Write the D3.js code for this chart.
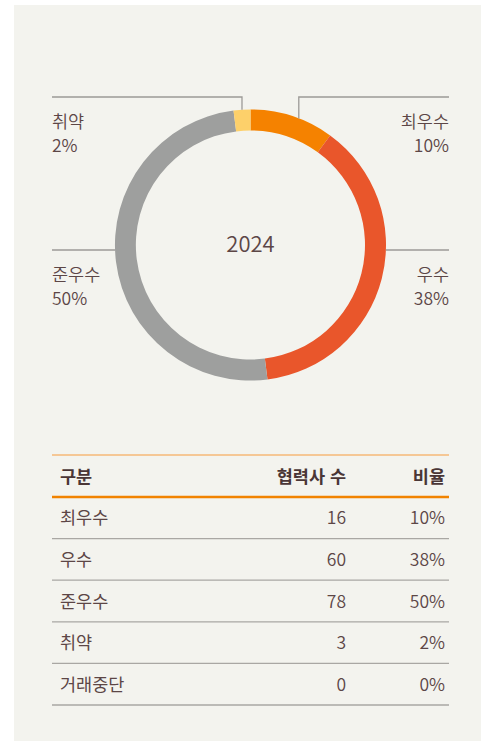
<!DOCTYPE html>
<html lang="ko">
<head>
<meta charset="utf-8">
<script src="https://cdn.jsdelivr.net/npm/d3@7"></script>
<style>
  html, body { margin: 0; padding: 0; background: #ffffff; }
  svg { display: block; }
  text { font-family: "Noto Sans CJK KR", "Noto Sans", sans-serif; }
</style>
</head>
<body>
<svg id="chart" width="481" height="742"></svg>
<script>
// Partner evaluation grades, 2024
const year = "2024";
const categories = ["최우수", "우수", "준우수", "취약", "거래중단"];
const partnerCounts = [16, 60, 78, 3, 0];
const sharePct = [10, 38, 50, 2, 0];
const gradeColors = ["#f58200", "#e9562b", "#9e9f9e", "#fdd06a", "#cccccc"];
const tableHeaders = ["구분", "협력사 수", "비율"];

const W = 481, H = 742;
const svg = d3.select("#chart");
const ink = "#5c4646";
const inkHead = "#4a3636";
const fs = 17.5;

// panel background
svg.append("rect")
  .attr("x", 14).attr("y", 5)
  .attr("width", W - 14).attr("height", H - 6)
  .attr("fill", "#f3f3ee");

// ---------- donut ----------
const cx = 250.5, cy = 245, R = 135.5, r = 114.5;
const left = 52, right = 449;

const data = categories.map((c, i) => ({
  name: c, count: partnerCounts[i], pct: sharePct[i], color: gradeColors[i]
}));

const pie = d3.pie().sort(null).value(d => d.pct);
const arcs = pie(data.filter(d => d.pct > 0));
const arc = d3.arc().innerRadius(r).outerRadius(R);

const g = svg.append("g").attr("transform", `translate(${cx},${cy})`);
g.selectAll("path.slice")
  .data(arcs)
  .join("path")
  .attr("class", "slice")
  .attr("d", arc)
  .attr("fill", d => d.data.color);

g.append("text")
  .attr("x", 0).attr("y", 7)
  .attr("text-anchor", "middle")
  .attr("font-size", 22)
  .attr("font-weight", 350)
  .attr("fill", ink)
  .text(year);

// ---------- callouts ----------
const lineColor = "#9c9a97";
const topY = 97, midY = 250;
const byName = Object.fromEntries(arcs.map(a => [a.data.name, a]));

// point on the outer rim at a given angle (0 = top, clockwise)
const rim = a => [cx + R * Math.sin(a), cy - R * Math.cos(a)];
const rimXAtY = (y, side) => cx + side * Math.sqrt(R * R - (y - cy) * (y - cy));

const callouts = [
  { name: "취약", side: -1, y: topY,
    angle: a => (a.startAngle + a.endAngle) / 2 },
  { name: "최우수", side: 1, y: topY,
    angle: a => a.startAngle + (a.endAngle - a.startAngle) * 0.58 },
  { name: "준우수", side: -1, y: midY },
  { name: "우수", side: 1, y: midY }
];

callouts.forEach(c => {
  const a = byName[c.name];
  const endX = c.side < 0 ? left : right;
  let path;
  if (c.angle) {
    const [px, py] = rim(c.angle(a));
    path = `M${px},${py}V${c.y}H${endX}`;
  } else {
    path = `M${rimXAtY(c.y, c.side)},${c.y}H${endX}`;
  }
  svg.append("path")
    .attr("d", path)
    .attr("fill", "none")
    .attr("stroke", lineColor)
    .attr("stroke-width", 1.3);

  const t = svg.append("text")
    .attr("text-anchor", c.side < 0 ? "start" : "end")
    .attr("font-size", fs)
    .attr("font-weight", 350)
    .attr("fill", ink);
  t.append("tspan").attr("x", endX).attr("y", c.y + 31).text(a.data.name);
  t.append("tspan").attr("x", endX).attr("y", c.y + 55).text(a.data.pct + "%");
});

// ---------- table ----------
const tableTop = 455, headBottom = 497;
const rows = d3.scaleBand()
  .domain(categories)
  .range([headBottom, 705]);

const colX = [60, 346, 445];
const colAnchor = ["start", "end", "end"];

svg.append("line")
  .attr("x1", left).attr("x2", right)
  .attr("y1", tableTop).attr("y2", tableTop)
  .attr("stroke", "#f6b877").attr("stroke-width", 1.5);

tableHeaders.forEach((h, i) => {
  svg.append("text")
    .attr("x", colX[i]).attr("y", (tableTop + headBottom) / 2 + 6.5)
    .attr("text-anchor", colAnchor[i])
    .attr("font-size", fs)
    .attr("font-weight", 700)
    .attr("fill", inkHead)
    .text(h);
});

// row separators
svg.selectAll("line.row")
  .data(categories)
  .join("line")
  .attr("class", "row")
  .attr("x1", left).attr("x2", right)
  .attr("y1", d => rows(d) + rows.bandwidth())
  .attr("y2", d => rows(d) + rows.bandwidth())
  .attr("stroke", "#a9a7a3").attr("stroke-width", 1.3);

svg.append("line")
  .attr("x1", left).attr("x2", right)
  .attr("y1", headBottom).attr("y2", headBottom)
  .attr("stroke", "#f18300").attr("stroke-width", 2.6);

const rowG = svg.selectAll("g.trow")
  .data(data)
  .join("g")
  .attr("class", "trow")
  .attr("transform", d => `translate(0,${rows(d.name) + rows.bandwidth() / 2 + 6.5})`);

const cells = [
  d => d.name,
  d => d.count,
  d => d.pct + "%"
];
cells.forEach((fn, i) => {
  rowG.append("text")
    .attr("x", colX[i]).attr("text-anchor", colAnchor[i])
    .attr("font-size", fs)
    .attr("font-weight", i === 0 ? 400 : 350)
    .attr("fill", ink)
    .text(fn);
});
</script>
</body>
</html>
